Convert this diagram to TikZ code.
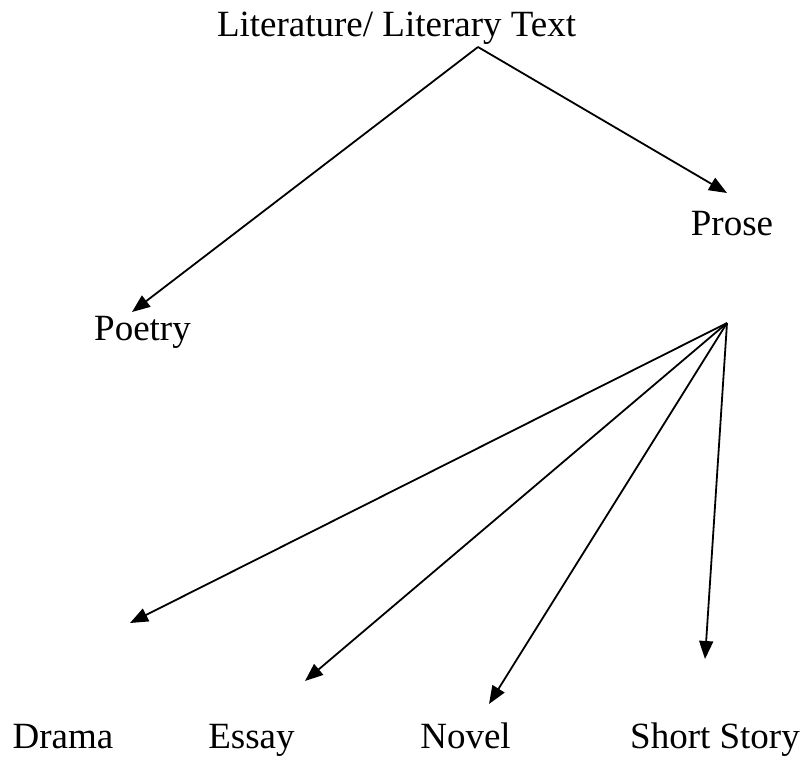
\documentclass[tikz,border=0pt]{standalone}
\usepackage{fontspec}
\setmainfont{Liberation Serif}
\usetikzlibrary{arrows.meta}
\begin{document}
\begin{tikzpicture}[x=1bp,y=-1bp,
  lbl/.style={anchor=base,inner sep=0pt,font=\fontsize{37bp}{44bp}\selectfont},
  arr/.style={line width=1.8bp,-{Triangle[length=18bp,width=14bp]}}]
\useasboundingbox (0,0) rectangle (805,760);
\node[lbl] (title) at (396.5,37) {Literature/ Literary Text};
\node[lbl] (prose) at (732,235) {Prose};
\node[lbl] (poetry) at (142.5,340) {Poetry};
\node[lbl] (drama) at (63,748) {Drama};
\node[lbl] (essay) at (251.5,748) {Essay};
\node[lbl] (novel) at (465.5,748) {Novel};
\node[lbl] (story) at (715,748) {Short Story};
\coordinate (top) at (478,47);
\coordinate (prosetip) at (727,193);
\coordinate (poetrytip) at (132,312);
\coordinate (fan) at (727,323);
\coordinate (dramatip) at (130,623);
\coordinate (essaytip) at (305,681);
\coordinate (noveltip) at (489,704);
\coordinate (storytip) at (705,659);
\draw[arr] (top) -- (prosetip);
\draw[arr] (top) -- (poetrytip);
\draw[arr] (fan) -- (dramatip);
\draw[arr] (fan) -- (essaytip);
\draw[arr] (fan) -- (noveltip);
\draw[arr] (fan) -- (storytip);
\end{tikzpicture}
\end{document}
